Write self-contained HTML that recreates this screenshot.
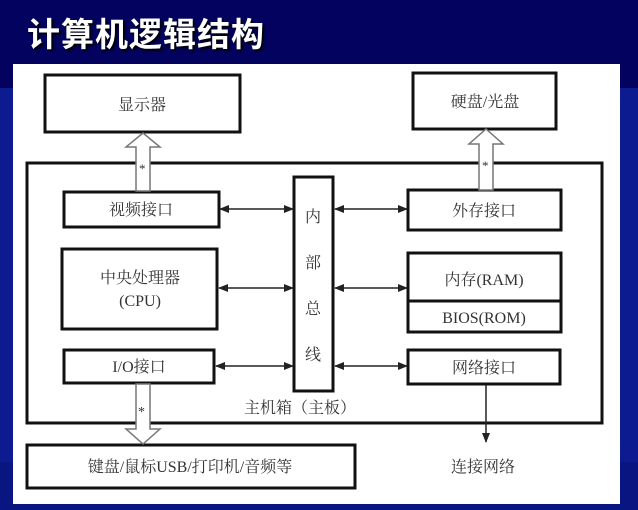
<!DOCTYPE html>
<html><head><meta charset="utf-8"><style>
html,body{margin:0;padding:0;width:638px;height:510px;overflow:hidden}
body{background:linear-gradient(#03035f 0,#03035f 88px,#0c1c90 88px,#0c1c90 462px,#091580 462px);position:relative;font-family:"Liberation Serif","Noto Serif CJK SC",serif}
.title{position:absolute;left:27px;top:8px;font-family:"Liberation Sans","Noto Sans CJK SC",sans-serif;font-weight:bold;font-size:33px;color:#fff;text-shadow:2px 2px 2px #000;letter-spacing:1px}
svg{position:absolute;left:0;top:0}
text{font-family:"Liberation Serif","Noto Serif CJK SC",serif;fill:#333;font-size:16px}
</style></head><body>
<div class="title">计算机逻辑结构</div>
<svg width="638" height="510" viewBox="0 0 638 510">
<defs><marker id="a" markerWidth="10" markerHeight="8" refX="9" refY="4" orient="auto-start-reverse" markerUnits="userSpaceOnUse"><path d="M0,0 L10,4 L0,8 Z" fill="#222"/></marker></defs>
<rect x="13" y="64" width="607" height="440" fill="#fff"/>
<g fill="none" stroke="#111" stroke-width="3">
<rect x="27" y="163" width="575" height="260"/>
<rect x="45" y="75" width="195" height="57"/>
<rect x="413" y="73" width="143" height="56"/>
<rect x="64" y="192" width="155" height="35"/>
<rect x="408" y="190" width="153" height="40"/>
<rect x="62" y="249" width="155" height="80"/>
<rect x="408" y="253" width="153" height="79"/>
<line x1="408" y1="301" x2="561" y2="301"/>
<rect x="64" y="350" width="150" height="33"/>
<rect x="408" y="350" width="152" height="34"/>
<rect x="294" y="177" width="39" height="214"/>
<rect x="27" y="445" width="328" height="43"/>
</g>
<g fill="#fff" stroke="#777" stroke-width="1.5">
<path d="M136,191 V147 H126 L143,133 L160,147 H150 V191 Z"/>
<path d="M479,190 V144 H469 L486,129 L503,144 H493 V190 Z"/>
<path d="M136,384 V429 H126 L143,444 L160,429 H150 V384 Z"/>
</g>
<g fill="#222">
<text x="139" y="173" style="font-size:13px">*</text>
<text x="482" y="170" style="font-size:13px">*</text>
<text x="138" y="416" style="font-size:14px">*</text>
</g>
<g stroke="#222" stroke-width="1.5" marker-start="url(#a)" marker-end="url(#a)">
<line x1="220" y1="209" x2="293" y2="209"/>
<line x1="335" y1="209" x2="407" y2="209"/>
<line x1="219" y1="288" x2="293" y2="288"/>
<line x1="335" y1="288" x2="407" y2="288"/>
<line x1="216" y1="366" x2="293" y2="366"/>
<line x1="335" y1="366" x2="407" y2="366"/>
</g>
<line x1="486" y1="385" x2="486" y2="442" stroke="#222" stroke-width="1.5" marker-end="url(#a)"/>
<text x="142" y="110" text-anchor="middle">显示器</text>
<text x="485" y="107" text-anchor="middle">硬盘/光盘</text>
<text x="141" y="215" text-anchor="middle">视频接口</text>
<text x="484" y="216" text-anchor="middle">外存接口</text>
<text x="140" y="283" text-anchor="middle">中央处理器</text>
<text x="140" y="306" text-anchor="middle">(CPU)</text>
<text x="484" y="285" text-anchor="middle">内存(RAM)</text>
<text x="484" y="323" text-anchor="middle">BIOS(ROM)</text>
<text x="139" y="372" text-anchor="middle">I/O接口</text>
<text x="484" y="373" text-anchor="middle">网络接口</text>
<text x="313" y="222" text-anchor="middle">内</text>
<text x="313" y="268" text-anchor="middle">部</text>
<text x="313" y="314" text-anchor="middle">总</text>
<text x="313" y="360" text-anchor="middle">线</text>
<text x="300" y="413" text-anchor="middle">主机箱（主板）</text>
<text x="190" y="472" text-anchor="middle">键盘/鼠标USB/打印机/音频等</text>
<text x="483" y="472" text-anchor="middle">连接网络</text>
</svg>
</body></html>
